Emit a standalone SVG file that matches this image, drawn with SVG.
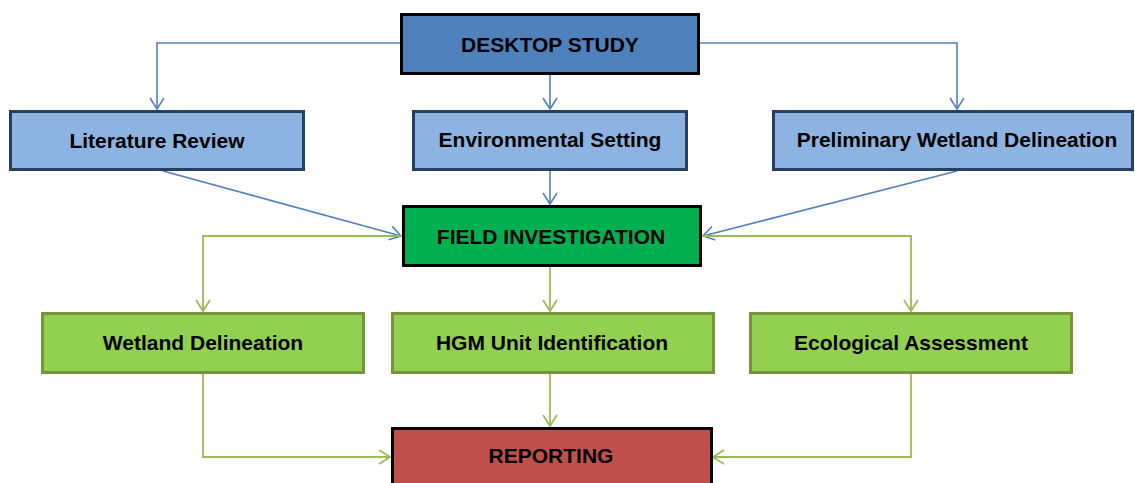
<svg xmlns="http://www.w3.org/2000/svg" width="1135" height="483" viewBox="0 0 1135 483">
  <style>
    text { font-family: "Liberation Sans", Arial, sans-serif; font-weight: bold; font-size: 21px; fill: #000; text-anchor: middle; }
    .top { fill: #4f81bd; stroke: #000; stroke-width: 3; }
    .sub { fill: #8db3e2; stroke: #243f60; stroke-width: 3; }
    .field { fill: #00b050; stroke: #000; stroke-width: 3; }
    .task { fill: #92d050; stroke: #77933c; stroke-width: 3; }
    .report { fill: #c0504d; stroke: #000; stroke-width: 3; }
    .blue { fill: none; stroke: #4f81bd; stroke-width: 1.6; marker-end: url(#arrowBlue); }
    .green { fill: none; stroke: #9bbb59; stroke-width: 1.8; marker-end: url(#arrowGreen); }
  </style>
  <defs>
    <marker id="arrowBlue" viewBox="-13 -9 15 18" refX="0" refY="0" markerWidth="15" markerHeight="18" markerUnits="userSpaceOnUse" orient="auto">
      <path d="M-11,-7 L0,0 L-11,7" fill="none" stroke="#4f81bd" stroke-width="1.6"/>
    </marker>
    <marker id="arrowGreen" viewBox="-13 -9 15 18" refX="0" refY="0" markerWidth="15" markerHeight="18" markerUnits="userSpaceOnUse" orient="auto">
      <path d="M-11,-7 L0,0 L-11,7" fill="none" stroke="#9bbb59" stroke-width="1.8"/>
    </marker>
  </defs>
  <rect width="1135" height="483" fill="#fff"/>

  <g id="connectors">
    <path class="blue" d="M401,43 H157 V109"/>
    <path class="blue" d="M550,75 V109"/>
    <path class="blue" d="M700,43 H957 V109"/>
    <path class="blue" d="M163,171 L401,236"/>
    <path class="blue" d="M550,171 V204"/>
    <path class="blue" d="M957,171 L703,236"/>
    <path class="green" d="M402,236 H203 V311"/>
    <path class="green" d="M550,267 V311"/>
    <path class="green" d="M702,236 H911 V311"/>
    <path class="green" d="M203,374 V457 H390"/>
    <path class="green" d="M550,374 V426"/>
    <path class="green" d="M911,374 V457 H713"/>
  </g>

  <g id="desktop-study">
    <rect class="top" x="401.5" y="14.5" width="297" height="59"/>
    <text x="550" y="52">DESKTOP STUDY</text>
  </g>
  <g id="literature-review">
    <rect class="sub" x="10.5" y="111.5" width="293" height="58"/>
    <text x="157" y="148">Literature Review</text>
  </g>
  <g id="environmental-setting">
    <rect class="sub" x="413.5" y="111.5" width="273" height="58"/>
    <text x="550" y="147">Environmental Setting</text>
  </g>
  <g id="preliminary-wetland-delineation">
    <rect class="sub" x="773.5" y="111.5" width="359" height="58"/>
    <text x="957" y="147">Preliminary Wetland Delineation</text>
  </g>
  <g id="field-investigation">
    <rect class="field" x="403.5" y="206.5" width="297" height="59"/>
    <text x="551" y="244">FIELD INVESTIGATION</text>
  </g>
  <g id="wetland-delineation">
    <rect class="task" x="42.5" y="313.5" width="321" height="59"/>
    <text x="203" y="350">Wetland Delineation</text>
  </g>
  <g id="hgm-unit-identification">
    <rect class="task" x="392.5" y="313.5" width="321" height="59"/>
    <text x="552" y="350">HGM Unit Identification</text>
  </g>
  <g id="ecological-assessment">
    <rect class="task" x="750.5" y="313.5" width="321" height="59"/>
    <text x="911" y="350">Ecological Assessment</text>
  </g>
  <g id="reporting">
    <rect class="report" x="392.5" y="428.5" width="319" height="70"/>
    <text x="551" y="463">REPORTING</text>
  </g>
</svg>
